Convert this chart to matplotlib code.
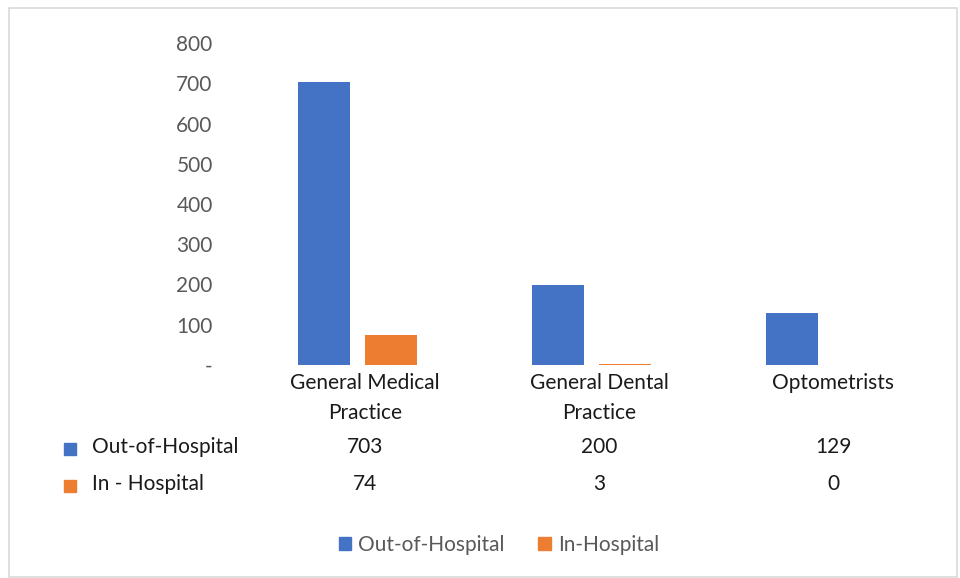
import numpy as np
import matplotlib.pyplot as plt
import matplotlib.transforms as mtransforms
from matplotlib.patches import Rectangle, Patch

plt.rcParams['font.family'] = ['Lato', 'DejaVu Sans']

categories = ["General Medical\nPractice", "General Dental\nPractice", "Optometrists"]
series_names = ["Out-of-Hospital", "In-Hospital"]
table_row_names = ["Out-of-Hospital", "In - Hospital"]
out_hospital = [703, 200, 129]
in_hospital = [74, 3, 0]
yticks = [0, 100, 200, 300, 400, 500, 600, 700, 800]
ytick_labels = ["-", "100", "200", "300", "400", "500", "600", "700", "800"]

blue = "#4472C4"
orange = "#ED7D31"
gray = "#595959"
dark = "#1a1a1a"
fs = 15

W, H = 960, 578
fig = plt.figure(figsize=(9.6, 5.78), dpi=100)

def fy(y):
    return 1 - y / H

ax = fig.add_axes([240.5 / W, fy(365), 702 / W, (365 - 43) / H])
x = np.arange(len(categories))
bw = 52 / 234
off = 33.5 / 234
ax.bar(x - off, out_hospital, bw, color=blue)
ax.bar(x + off, in_hospital, bw, color=orange)
ax.set_xlim(-0.5, 2.5)
ax.set_ylim(0, 800)
ax.set_yticks(yticks)
ax.set_yticklabels(ytick_labels, fontsize=fs, color=gray)
ax.tick_params(axis='y', length=0, pad=20)
ax.set_xticks([])
for s in ax.spines.values():
    s.set_visible(False)

trans = mtransforms.blended_transform_factory(ax.transData, fig.transFigure)
lab_off = 7.5 / 234
for i, c in enumerate(categories):
    lines = c.split("\n")
    for j, ln in enumerate(lines):
        ax.text(i + lab_off, fy(383 + 30 * j), ln, transform=trans, ha='center', va='center',
                fontsize=fs, color=dark)

rows = [out_hospital, in_hospital]
row_y = [447, 484]
colors = [blue, orange]
for r in range(2):
    fig.text(92 / W, fy(row_y[r]), table_row_names[r], ha='left', va='center', fontsize=fs, color=dark)
    fig.patches.append(Rectangle((64 / W, fy(row_y[r] + 8)), 12 / W, 12 / H, transform=fig.transFigure,
                                 color=colors[r], figure=fig))
    for i, v in enumerate(rows[r]):
        ax.text(i + lab_off, fy(row_y[r]), str(v), transform=trans, ha='center', va='center',
                fontsize=fs, color=dark)

handles = [Patch(color=blue), Patch(color=orange)]
leg = fig.legend(handles, series_names, loc='center', bbox_to_anchor=(499 / W, fy(545)), ncol=2,
                 frameon=False, fontsize=fs, handlelength=0.6, handleheight=0.6, handletextpad=0.35,
                 columnspacing=1.6)
for t in leg.get_texts():
    t.set_color(gray)

fig.patches.append(Rectangle((9 / W, 1 / H), 948 / W, (577 - 8) / H, transform=fig.transFigure,
                             fill=False, edgecolor="#D9D9D9", linewidth=1.2, figure=fig))

fig.savefig("out.png", dpi=100)
